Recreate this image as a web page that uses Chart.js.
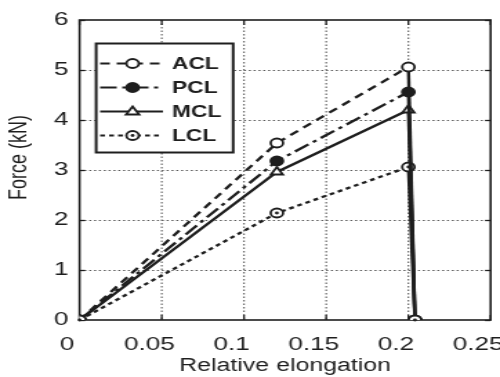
<!DOCTYPE html>
<html>
<head>
<meta charset="utf-8">
<script src="https://cdn.jsdelivr.net/npm/chart.js@4.4.1/dist/chart.umd.min.js"></script>
<style>
  html, body { margin: 0; padding: 0; background: #fff; overflow: hidden; }
  #wrap { width: 362px; height: 377px; transform: scaleX(1.3812); transform-origin: 0 0; }
  canvas { display: block; }
</style>
</head>
<body>
<div id="wrap"><canvas id="c" width="362" height="377"></canvas></div>
<script>
// ---- data ----
const elongation = [0, 0.12, 0.2, 0.204];
const seriesNames = ['ACL', 'PCL', 'MCL', 'LCL'];
const acl = [0, 3.54, 5.06, 0];
const pcl = [0, 3.18, 4.56, 0];
const mcl = [0, 2.96, 4.20, 0];
const lcl = [0, 2.14, 3.06, 0];
const xTickLabels = ['0', '0.05', '0.1', '0.15', '0.2', '0.25'];
const yTickLabels = ['0', '1', '2', '3', '4', '5', '6'];
const yTitle = 'Force (kN)';
const xTitle = 'Relative elongation';

const INK = '#1e1e1e';
const FONT = "'Liberation Sans', Arial, Helvetica, sans-serif";

const styles = [
  { dash: [7, 5], style: 'circle', fill: '#fff', r: 4.5, dot: false },
  { dash: [12, 4, 3, 4], style: 'circle', fill: INK, r: 4.5, dot: false },
  { dash: [], style: 'triangle', fill: '#fff', r: 5, dot: false },
  { dash: [3.5, 3], style: 'circle', fill: '#fff', r: 4.5, dot: true }
];
const seriesValues = [acl, pcl, mcl, lcl];

const datasets = seriesValues.map((vals, i) => ({
  label: seriesNames[i],
  data: vals.map((v, j) => ({ x: elongation[j], y: v })),
  borderColor: INK,
  backgroundColor: styles[i].fill,
  borderWidth: 2.3,
  borderDash: styles[i].dash,
  pointStyle: styles[i].style,
  pointRadius: styles[i].r,
  pointBorderWidth: 1.8,
  pointBorderColor: INK,
  pointBackgroundColor: styles[i].fill,
  tension: 0,
  segment: {
    borderDash: ctx => ctx.p1DataIndex === 3 ? [] : styles[i].dash,
    borderWidth: ctx => ctx.p1DataIndex === 3 ? 2.4 : 2.3
  }
}));

function drawMarker(ctx, st, x, y) {
  ctx.save();
  ctx.lineWidth = 1.8;
  ctx.strokeStyle = INK;
  ctx.fillStyle = st.fill;
  ctx.beginPath();
  if (st.style === 'triangle') {
    const r = st.r;
    ctx.moveTo(x, y - r);
    ctx.lineTo(x + r * 0.95, y + r * 0.6);
    ctx.lineTo(x - r * 0.95, y + r * 0.6);
    ctx.closePath();
  } else {
    ctx.arc(x, y, st.r, 0, Math.PI * 2);
  }
  ctx.fill();
  ctx.stroke();
  if (st.dot) {
    ctx.beginPath();
    ctx.fillStyle = INK;
    ctx.arc(x, y, 1.4, 0, Math.PI * 2);
    ctx.fill();
  }
  ctx.restore();
}

function line(ctx, x1, y1, x2, y2) {
  ctx.beginPath();
  ctx.moveTo(x1, y1);
  ctx.lineTo(x2, y2);
  ctx.stroke();
}

const framePlugin = {
  id: 'frame',
  beforeDatasetsDraw(chart) {
    const ctx = chart.ctx;
    const a = chart.chartArea;
    const sx = chart.scales.x, sy = chart.scales.y;
    const xs = xTickLabels.map(l => sx.getPixelForValue(parseFloat(l)));
    const ys = yTickLabels.map(l => Math.round(sy.getPixelForValue(parseFloat(l))) + 0.5);
    ctx.save();
    ctx.globalAlpha = 1;
    ctx.globalCompositeOperation = 'source-over';
    // dotted grid
    ctx.strokeStyle = '#5a5a5a';
    ctx.lineWidth = 1.1;
    ctx.setLineDash([1.5, 2]);
    for (let k = 1; k < xs.length - 1; k++) line(ctx, xs[k], a.top, xs[k], a.bottom);
    for (let k = 1; k < ys.length - 1; k++) line(ctx, a.left, ys[k], a.right, ys[k]);
    ctx.setLineDash([]);
    // frame
    ctx.strokeStyle = INK;
    ctx.lineWidth = 1.6;
    ctx.strokeRect(a.left, a.top, a.right - a.left, a.bottom - a.top);
    ctx.lineWidth = 1.3;
    const tl = 5;
    xs.forEach(px => { line(ctx, px, a.bottom, px, a.bottom - tl); line(ctx, px, a.top, px, a.top + tl); });
    ys.forEach(py => { line(ctx, a.left, py, a.left + 4, py); line(ctx, a.right, py, a.right - 4, py); });
    // y axis title
    ctx.translate(14.5, 157.5);
    ctx.rotate(-Math.PI / 2);
    ctx.font = '18px ' + FONT;
    ctx.fillStyle = INK;
    ctx.textAlign = 'center';
    ctx.textBaseline = 'middle';
    ctx.fillText(yTitle, 0, 0);
    ctx.restore();
  },
  afterDatasetsDraw(chart) {
    const { ctx } = chart;
    // center dots for LCL markers
    chart.data.datasets.forEach((ds, i) => {
      if (!styles[i].dot) return;
      chart.getDatasetMeta(i).data.forEach(pt => {
        ctx.save();
        ctx.fillStyle = INK;
        ctx.beginPath();
        ctx.arc(pt.x, pt.y, 1.4, 0, Math.PI * 2);
        ctx.fill();
        ctx.restore();
      });
    });
    // legend box inside plot
    const bx = 69.6, by = 43.5, bw = 99.2, bh = 109;
    ctx.save();
    ctx.fillStyle = '#fff';
    ctx.fillRect(bx, by, bw, bh);
    ctx.strokeStyle = INK;
    ctx.lineWidth = 2;
    ctx.strokeRect(bx, by, bw, bh);
    ctx.font = 'bold 16.5px ' + FONT;
    ctx.textBaseline = 'middle';
    ctx.textAlign = 'left';
    seriesNames.forEach((name, i) => {
      const y = 63.5 + i * 24;
      ctx.save();
      ctx.strokeStyle = INK;
      ctx.lineWidth = 2.2;
      ctx.setLineDash(styles[i].dash);
      line(ctx, 72.5, y, 118, y);
      ctx.restore();
      drawMarker(ctx, styles[i], 96, y);
      ctx.fillStyle = INK;
      ctx.fillText(name, 124.5, y + 1);
    });
    ctx.restore();
  }
};

new Chart(document.getElementById('c'), {
  type: 'line',
  data: { datasets },
  plugins: [framePlugin],
  options: {
    responsive: false,
    animation: false,
    devicePixelRatio: 1,
    layout: { padding: { top: 20, right: 4.8, bottom: 0, left: 0 } },
    plugins: { legend: { display: false }, tooltip: { enabled: false } },
    scales: {
      x: {
        type: 'linear',
        min: 0, max: 0.25,
        afterFit(s) { s.height = 57; s.paddingLeft = 0; s.paddingRight = 0; },
        border: { display: false },
        grid: { display: false, drawTicks: false },
        ticks: {
          stepSize: 0.05,
          padding: 13,
          labelOffset: -9,
          color: INK,
          font: { family: FONT, size: 19 },
          callback: (v, idx) => xTickLabels[idx]
        },
        title: { display: true, text: xTitle, color: INK, padding: { top: 0, bottom: 0 }, font: { family: FONT, size: 18 } }
      },
      y: {
        type: 'linear',
        min: 0, max: 6,
        afterFit(s) { s.width = 57.6; s.paddingTop = 0; s.paddingBottom = 0; },
        border: { display: false },
        grid: { display: false, drawTicks: false },
        ticks: {
          stepSize: 1,
          padding: 8,
          color: INK,
          font: { family: FONT, size: 19 },
          callback: (v, idx) => yTickLabels[idx]
        },
        title: { display: false }
      }
    }
  }
});
</script>
</body>
</html>
